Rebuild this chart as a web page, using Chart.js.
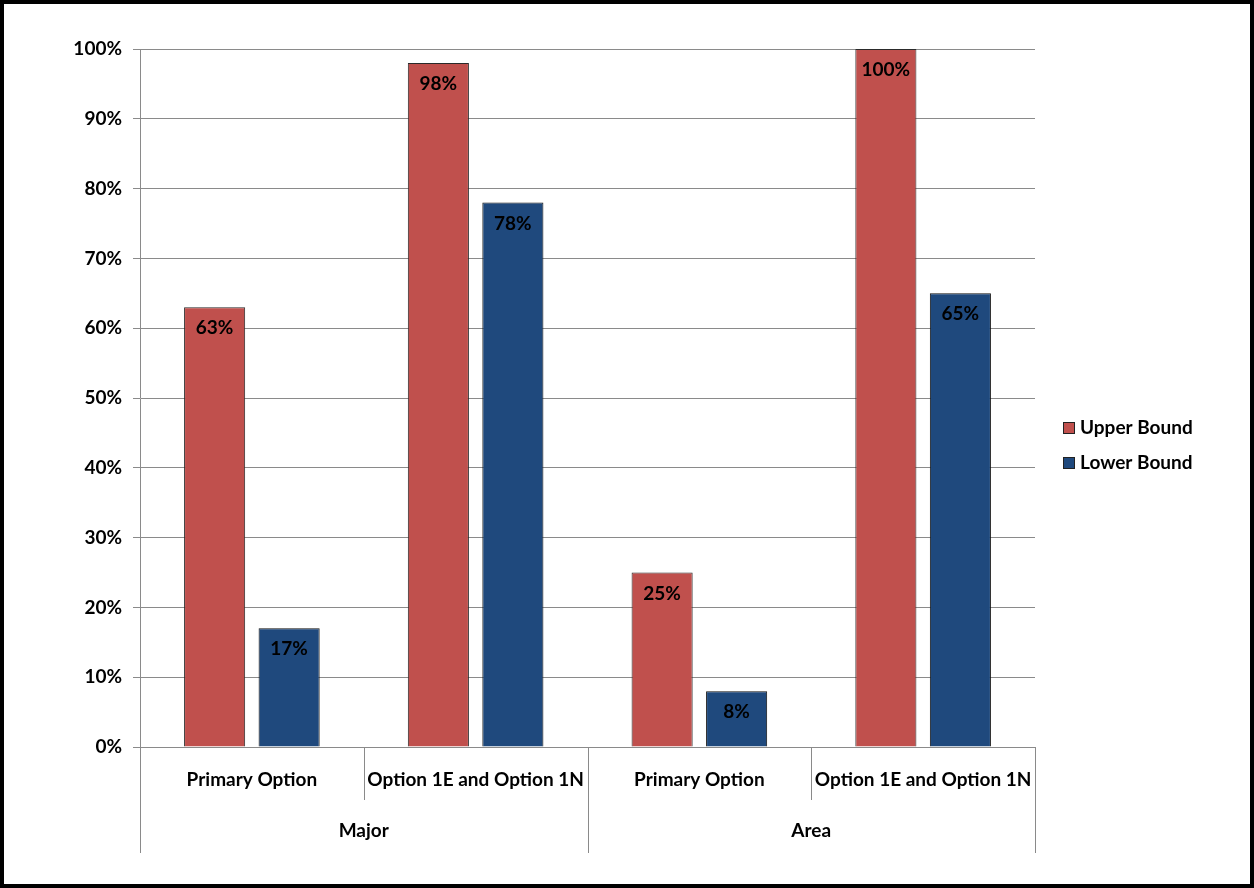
<!DOCTYPE html>
<html>
<head>
<meta charset="utf-8">
<script src="https://cdn.jsdelivr.net/npm/chart.js@4/dist/chart.umd.min.js"></script>
<style>
  html, body { margin: 0; padding: 0; background: #fff; }
  #wrap { width: 1254px; height: 888px; }
</style>
</head>
<body>
<div id="wrap"><canvas id="c" width="1254" height="888"></canvas></div>
<script>
// Inner categories (one per bar pair) and the outer groups they belong to
const categories = ['Primary Option', 'Option 1E and Option 1N', 'Primary Option', 'Option 1E and Option 1N'];
const groups = ['Major', 'Area'];
const groupSpan = 2; // inner categories per outer group

// Percent values per series
const upperBound = [63, 98, 25, 100];
const lowerBound = [17, 78, 8, 65];
const seriesNames = ['Upper Bound', 'Lower Bound'];

// Y-axis ticks
const yMax = 100;
const yStep = 10;

const FONT = 'Lato, "Open Sans", "DejaVu Sans", sans-serif';
const FSIZE = 19;
const GRID = '#8a8a8a';

// Frame, value labels, grouped category axis and legend
const decorations = {
  id: 'decorations',
  beforeDraw(chart) {
    const ctx = chart.ctx;
    ctx.save();
    ctx.fillStyle = '#fff';
    ctx.fillRect(0, 0, chart.width, chart.height);
    ctx.restore();
  },
  afterDatasetsDraw(chart) {
    const ctx = chart.ctx;
    ctx.save();
    ctx.font = 'bold ' + FSIZE + 'px ' + FONT;
    ctx.fillStyle = '#000';
    ctx.textAlign = 'center';
    ctx.textBaseline = 'middle';
    chart.data.datasets.forEach((ds, di) => {
      const meta = chart.getDatasetMeta(di);
      meta.data.forEach((bar, i) => {
        ctx.fillText(ds.data[i] + '%', bar.x, bar.y + 21);
      });
    });
    ctx.restore();
  },
  afterDraw(chart) {
    const ctx = chart.ctx;
    const x = chart.scales.x;
    const area = chart.chartArea;
    const n = categories.length;
    const step = (area.right - area.left) / n;
    const innerBottom = area.bottom + 53;
    const outerBottom = area.bottom + 106;

    ctx.save();
    ctx.strokeStyle = GRID;
    ctx.lineWidth = 1;
    // category boundary lines below the axis
    for (let i = 0; i <= n; i++) {
      const px = Math.round(x.getPixelForValue(i) - step / 2) + 0.5;
      const long = i % groupSpan === 0;
      ctx.beginPath();
      ctx.moveTo(px, area.bottom);
      ctx.lineTo(px, long ? outerBottom : innerBottom);
      ctx.stroke();
    }
    // outer group labels
    ctx.font = 'bold ' + FSIZE + 'px ' + FONT;
    ctx.fillStyle = '#000';
    ctx.textAlign = 'center';
    ctx.textBaseline = 'middle';
    groups.forEach((g, gi) => {
      const a = x.getPixelForValue(gi * groupSpan);
      const b = x.getPixelForValue(gi * groupSpan + groupSpan - 1);
      ctx.fillText(g, (a + b) / 2, area.bottom + 84);
    });

    // legend
    const lx = 1063, ly = [428, 463];
    chart.data.datasets.forEach((ds, di) => {
      ctx.fillStyle = ds.backgroundColor;
      ctx.fillRect(lx, ly[di] - 6, 12, 12);
      ctx.strokeStyle = '#222';
      ctx.strokeRect(lx + 0.5, ly[di] - 5.5, 11, 11);
      ctx.fillStyle = '#000';
      ctx.textAlign = 'left';
      ctx.font = 'bold ' + FSIZE + 'px ' + FONT;
      ctx.fillText(ds.label, 1080, ly[di]);
    });

    // outer frame
    ctx.strokeStyle = '#000';
    ctx.lineWidth = 4;
    ctx.strokeRect(2, 2, chart.width - 4, chart.height - 4);
    ctx.restore();
  }
};

new Chart(document.getElementById('c'), {
  type: 'bar',
  data: {
    labels: categories,
    datasets: [
      {
        label: seriesNames[0],
        data: upperBound,
        backgroundColor: '#C0504D',
        borderColor: '#2a2a2a',
        borderWidth: 1
      },
      {
        label: seriesNames[1],
        data: lowerBound,
        backgroundColor: '#1F497D',
        borderColor: '#111',
        borderWidth: 1
      }
    ]
  },
  options: {
    responsive: false,
    animation: false,
    events: [],
    layout: { padding: { top: 49, left: 0, right: 219, bottom: 35 } },
    categoryPercentage: 0.666,
    barPercentage: 0.82,
    plugins: {
      legend: { display: false },
      tooltip: { enabled: false }
    },
    scales: {
      x: {
        offset: true,
        grid: { display: false, drawTicks: false },
        border: { display: false },
        ticks: {
          padding: 21,
          color: '#000',
          maxRotation: 0,
          autoSkip: false,
          font: { family: FONT, size: FSIZE, weight: 'bold' }
        },
        afterFit(scale) { scale.height = 106; }
      },
      y: {
        min: 0,
        max: yMax,
        grid: { color: GRID, tickLength: 7, lineWidth: 1 },
        border: { display: true, color: GRID, width: 1 },
        ticks: {
          stepSize: yStep,
          padding: 11,
          color: '#000',
          font: { family: FONT, size: FSIZE, weight: 'bold' },
          callback: v => v + '%'
        },
        afterFit(scale) { scale.width = 140; }
      }
    }
  },
  plugins: [decorations]
});
</script>
</body>
</html>
